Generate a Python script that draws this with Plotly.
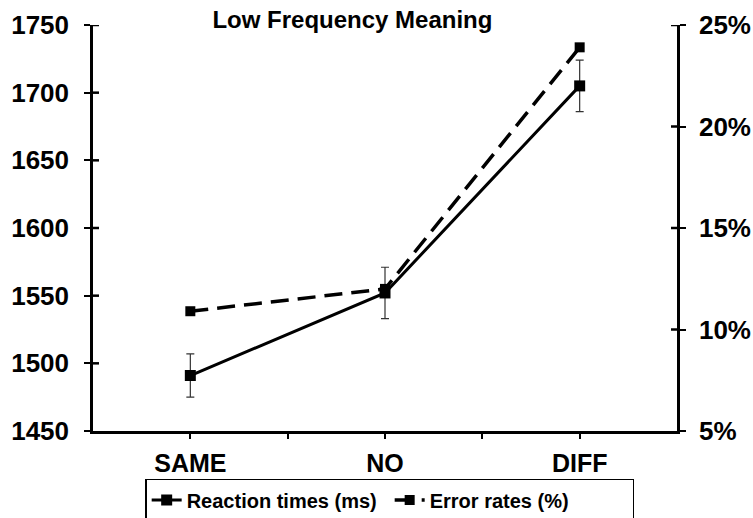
import plotly.graph_objects as go

categories = ["SAME", "NO", "DIFF"]
x_pos = [0, 1, 2]
reaction_times = [1491, 1552, 1705]
rt_errors = [16, 19, 19]
error_rates = [10.9, 12.0, 23.9]
left_ticks = [1450, 1500, 1550, 1600, 1650, 1700, 1750]
right_ticks = [5, 10, 15, 20, 25]
right_ticktext = ["5%", "10%", "15%", "20%", "25%"]

FONT = "Liberation Sans, Arial, sans-serif"
PLOT_W = 753 - 93 - 76

fig = go.Figure()
fig.add_trace(go.Scatter(
    x=x_pos, y=reaction_times, name="Reaction times (ms)",
    mode="lines+markers",
    line=dict(color="black", width=3),
    marker=dict(symbol="square", size=11, color="black"),
    error_y=dict(type="data", array=rt_errors, visible=True,
                 color="#333333", thickness=1.2, width=4),
    yaxis="y",
))
fig.add_trace(go.Scatter(
    x=x_pos, y=error_rates, name="Error rates (%)",
    mode="lines+markers",
    line=dict(color="black", width=3.5, dash="18px,9px"),
    marker=dict(symbol="square", size=10, color="black"),
    yaxis="y2",
))

# inner halves of the crossing tick marks
tick_in = 6 / PLOT_W
for v in left_ticks[1:]:
    fig.add_shape(type="line", xref="paper", yref="y", x0=0, x1=tick_in,
                  y0=v, y1=v, line=dict(color="black", width=2.5), layer="above")
for v in right_ticks[1:]:
    fig.add_shape(type="line", xref="paper", yref="y2", x0=1 - tick_in, x1=1,
                  y0=v, y1=v, line=dict(color="black", width=2.5), layer="above")

fig.update_layout(
    width=753, height=518,
    margin=dict(l=93, r=76, t=25, b=87, autoexpand=False),
    paper_bgcolor="white", plot_bgcolor="white",
    font=dict(family=FONT, color="black", size=25, weight="bold"),
    title=dict(text="Low Frequency Meaning", x=0.468, xref="container",
               xanchor="center", y=0.962, yanchor="middle",
               font=dict(size=24, family=FONT, weight="bold")),
    xaxis=dict(range=[-0.5, 2.5], tickvals=x_pos, ticktext=categories,
               showgrid=False, zeroline=False, showline=True,
               linecolor="black", linewidth=2.5, automargin=False,
               ticks="outside", ticklen=5, tickwidth=2, tickcolor="black",
               tickfont=dict(size=25, family=FONT, weight="bold"),
               ticklabelstandoff=3,
               minor=dict(tickvals=[0.5, 1.5], ticks="outside", ticklen=5,
                          tickwidth=2, tickcolor="black", showgrid=False)),
    yaxis=dict(range=[1450, 1750], tickvals=left_ticks,
               showgrid=False, zeroline=False, showline=True,
               linecolor="black", linewidth=2.5, automargin=False,
               ticks="outside", ticklen=6, tickwidth=2, tickcolor="black",
               tickfont=dict(size=26, family=FONT, weight="bold"),
               ticklabelstandoff=10),
    yaxis2=dict(range=[5, 25], tickvals=right_ticks, ticktext=right_ticktext,
                overlaying="y", side="right", automargin=False,
                showgrid=False, zeroline=False, showline=True,
                linecolor="black", linewidth=2.5,
                ticks="outside", ticklen=6, tickwidth=2, tickcolor="black",
                tickfont=dict(size=26, family=FONT, weight="bold"),
                ticklabelstandoff=8),
    showlegend=True,
    legend=dict(orientation="h", x=0.508, xanchor="center",
                y=-0.118, yanchor="top",
                bordercolor="black", borderwidth=1.5, bgcolor="white",
                font=dict(size=20, family=FONT, weight="bold"),
                itemwidth=30, entrywidth=198, tracegroupgap=0),
)

fig.write_html("out.html", post_script="document.body.style.margin='0';",
               config={"displayModeBar": False})
